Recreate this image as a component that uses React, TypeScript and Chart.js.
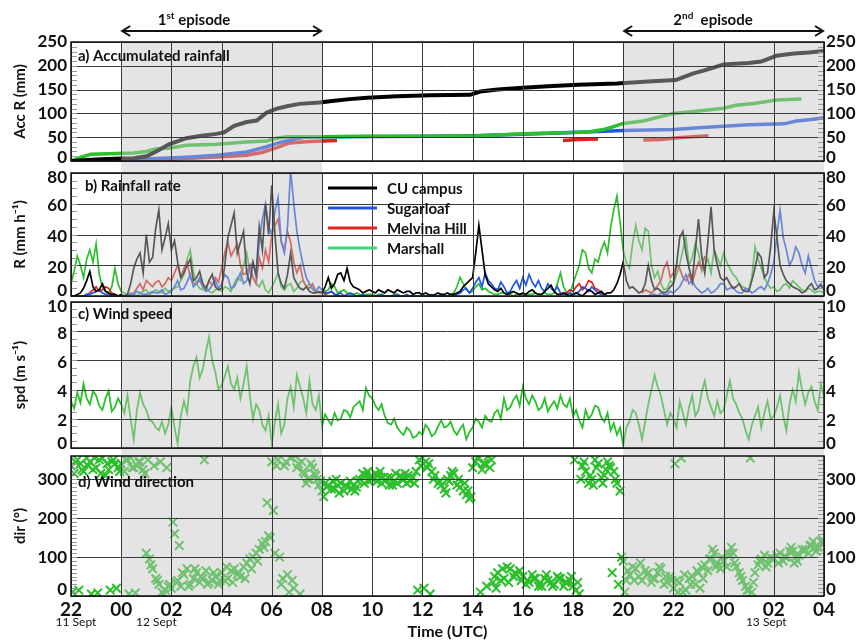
import React, { useEffect, useRef } from 'react';
import { Chart, registerables } from 'chart.js';

Chart.register(...registerables);

const WIDTH = 858;
const HEIGHT = 641;
const FONT = "Lato, 'Open Sans', 'DejaVu Sans', sans-serif";

// Time axis: hours after 00 UTC 12 Sept (22 UTC 11 Sept = -2, 04 UTC 13 Sept = 28)
const T_START = -2;
const T_END = 28;
const STEP = 0.25; // quarter-hour samples; the "half" arrays sit 7.5 min after each sample
const EPISODES: [number, number][] = [[0, 8], [20, 28]];

const BLACK = '#000000';
const BLUE = '#1f56e6';
const RED = '#e0241c';
const GREEN = '#2cbf2c';
const LEGEND_GREEN = '#3fd47c';
const SHADE = 'rgba(195,195,195,0.45)';
const GRID = '#3a3a3a';
const MINOR = '#9a9a9a';
const INK = '#111111';

// ---- a) accumulated rainfall (mm), irregular samples ----
const accCuT = [-2, -1, 0, 0.5, 1.0, 1.4, 1.9, 2.6, 3.2, 3.8, 4.1, 4.5, 5.0, 5.4, 5.8, 6.2, 6.6, 7.1, 7.9, 8.4, 9.1, 9.8, 11, 12.3, 13.9, 14.3, 15, 16, 17, 18.2, 19.75, 21, 22.1, 22.4, 22.8, 23.2, 23.6, 24, 25, 25.5, 26.1, 26.8, 27.4, 28];
const accCuV = [0, 3, 5, 6, 10, 20, 35, 48, 53, 57, 60, 74, 82, 85, 102, 110, 115, 120, 123, 126, 130, 133, 136, 138, 139, 146, 150, 154, 157, 160, 163, 167, 170, 176, 184, 190, 196, 203, 206, 209, 221, 226, 228, 231];
const accMarshallT = [-2, -1.6, -1.2, 0.5, 1.0, 1.4, 1.9, 2.6, 3.8, 5.0, 5.8, 6.2, 6.6, 8, 10, 12.3, 14.2, 16.3, 18.6, 19.2, 19.6, 20, 20.8, 22, 23, 24, 24.5, 25.2, 26.1, 27.1];
const accMarshallV = [0, 8, 14, 17, 20, 26, 27, 33, 35, 40, 42, 48, 51, 51, 52, 52, 53, 58, 61, 66, 72, 79, 84, 100, 105, 111, 117, 121, 128, 130];
const accSugarloafT = [-2, 0.5, 1.4, 2.6, 3.8, 5.0, 5.8, 6.2, 6.8, 7.3, 8, 12.3, 14, 16, 18, 19.5, 20, 22, 23, 24, 25, 26.4, 26.9, 27.5, 28];
const accSugarloafV = [0, 3, 5, 8, 12, 19, 30, 37, 45, 50, 51, 52, 53, 56, 60, 63, 64, 66, 70, 73, 76, 78, 84, 87, 91];
const accMelvinaT = [-2, 1.5, 2.5, 4, 5, 5.6, 6.2, 6.7, 7.5, 8.6, 8.7, 17.6, 18.2, 19.0, 19.1, 20.8, 21.5, 22.2, 23.4];
const accMelvinaV = [0, 1, 5, 9, 12, 18, 28, 38, 41, 43, null, 43, 45, 46, null, 44, 45, 49, 53];

// ---- b) rainfall rate (mm/h) ----
const rateCu = [
  0, 1, 5, 16, 3, 8, 2, 1,
  1, 1, 18, 28, 40, 25, 56, 38,
  30, 22, 15, 24, 12, 8, 10, 6,
  5, 38, 54, 35, 15, 22, 45, 60,
  72, 15, 5, 28, 8, 4, 3, 2,
  2, 12, 8, 15, 18, 6, 4, 3,
  3, 4, 2, 3, 4, 2, 3, 2,
  1, 1, 1, 1, 2, 1, 3, 8,
  12, 46, 14, 6, 3, 2, 2, 2,
  2, 3, 2, 1, 5, 3, 1, 1,
  1, 1, 2, 3, 2, 1, 2, 8,
  22, 5, 4, 3, 20, 4, 3, 3,
  8, 38, 28, 10, 50, 15, 58, 20,
  10, 8, 6, 4, 3, 18, 25, 15,
  55, 20, 10, 6, 4, 3, 8, 5,
  4,
];
const rateCuHalf = [
  0, 2, 10, 6, 4, 3, 1, 0,
  0, 8, 24, 15, 22, 44, 30, 47,
  36, 12, 20, 10, 16, 5, 14, 4,
  20, 46, 28, 42, 8, 14, 30, 40,
  40, 8, 14, 12, 5, 6, 2, 3,
  6, 5, 14, 10, 9, 5, 2, 4,
  2, 3, 4, 2, 3, 3, 1, 2,
  2, 0, 2, 1, 1, 2, 6, 10,
  28, 30, 8, 4, 5, 1, 3, 1,
  1, 4, 1, 3, 7, 1, 2, 0,
  2, 0, 4, 1, 3, 2, 4, 14,
  10, 6, 2, 8, 10, 5, 2, 6,
  20, 42, 18, 30, 26, 35, 30, 12,
  12, 5, 8, 3, 10, 28, 12, 32,
  38, 14, 8, 5, 2, 6, 4, 7,
];
const rateSugarloaf = [
  0, 0, 0, 1, 3, 2, 1, 0,
  0, 0, 1, 2, 1, 3, 2, 1,
  3, 10, 5, 14, 8, 6, 4, 10,
  8, 12, 6, 15, 10, 22, 35, 60,
  40, 64, 28, 82, 42, 20, 8, 3,
  4, 2, 1, 2, 1, 1, 0, 0,
  0, 0, 0, 0, 1, 0, 0, 0,
  0, 0, 0, 1, 0, 0, 2, 5,
  5, 12, 15, 8, 4, 6, 3, 10,
  12, 14, 6, 5, 8, 3, 2, 1,
  1, 3, 5, 6, 2, 1, 0, 0,
  0, 0, 0, 0, 0, 1, 2, 1,
  2, 6, 14, 10, 4, 3, 2, 5,
  8, 5, 3, 2, 4, 3, 6, 8,
  22, 56, 30, 24, 28, 15, 18, 6,
  4,
];
const rateSugarloafHalf = [
  0, 0, 1, 2, 4, 1, 0, 0,
  0, 1, 3, 1, 2, 2, 4, 2,
  6, 4, 9, 6, 12, 3, 7, 5,
  14, 5, 10, 8, 18, 12, 50, 45,
  55, 35, 45, 60, 30, 12, 5, 6,
  2, 3, 1, 0, 2, 0, 1, 0,
  0, 1, 0, 0, 0, 1, 0, 0,
  0, 1, 0, 0, 1, 1, 4, 2,
  9, 6, 10, 5, 9, 2, 7, 5,
  7, 9, 10, 3, 5, 6, 1, 2,
  2, 6, 3, 4, 1, 0, 0, 0,
  0, 0, 0, 0, 1, 0, 1, 3,
  4, 10, 8, 6, 2, 5, 3, 8,
  4, 6, 2, 5, 2, 5, 4, 14,
  40, 38, 20, 32, 20, 26, 10, 8,
];
const rateMelvina = [
  0, 0, 0, 2, 6, 4, 5, 1,
  0, 0, 2, 8, 10, 6, 10, 8,
  10, 20, 18, 12, 8, 6, 10, 12,
  18, 35, 30, 20, 15, 12, 25, 30,
  40, 50, 30, 35, 15, 10, 5, 3,
  3, 2, 1, 0, null, null, null, null,
  null, null, null, null, null, null, null, null,
  null, null, null, null, null, null, null, null,
  null, null, null, null, null, null, null, null,
  null, null, null, null, null, null, 1, 2,
  3, 8, 6, 9, 4, 1, null, null,
  null, null, null, 2, 3, 4, 10, 22,
  15, 18, 10, 8, 22, 26, null, null,
  null, null, null, null, null, null, null, null,
  null, null, null, null, null, null, null, null,
  null,
];
const rateMelvinaHalf = [
  0, 0, 1, 4, 3, 6, 2, 0,
  0, 1, 5, 4, 8, 9, 6, 12,
  15, 12, 22, 8, 10, 4, 7, 9,
  28, 26, 34, 14, 20, 8, 18, 22,
  46, 36, 42, 22, 20, 6, 8, 2,
  1, 3, 0, null, null, null, null, null,
  null, null, null, null, null, null, null, null,
  null, null, null, null, null, null, null, null,
  null, null, null, null, null, null, null, null,
  null, null, null, null, null, null, 2, 4,
  6, 4, 10, 5, 2, null, null, null,
  null, null, null, 4, 2, 7, 18, 12,
  20, 12, 14, 16, 18, null, null, null,
  null, null, null, null, null, null, null, null,
  null, null, null, null, null, null, null, null,
];
const rateMarshall = [
  8, 26, 12, 30, 34, 6, 2, 18,
  3, 1, 1, 2, 4, 2, 3, 5,
  4, 6, 14, 30, 8, 4, 3, 4,
  3, 5, 8, 10, 28, 12, 6, 4,
  6, 15, 4, 8, 5, 10, 8, 3,
  2, 4, 6, 3, 2, 1, 1, 1,
  1, 1, 0, 0, 1, 0, 0, 0,
  0, 0, 0, 0, 0, 2, 12, 4,
  3, 8, 5, 2, 1, 2, 1, 1,
  1, 1, 2, 1, 1, 2, 15, 2,
  8, 20, 28, 15, 22, 35, 45, 65,
  30, 18, 46, 30, 42, 12, 8, 5,
  8, 20, 38, 25, 28, 20, 15, 25,
  28, 18, 12, 6, 4, 32, 18, 8,
  6, 4, 8, 10, 6, 3, 4, 3,
  2,
];
const rateMarshallHalf = [
  16, 20, 24, 22, 14, 3, 6, 8,
  2, 2, 0, 3, 1, 4, 2, 3,
  5, 10, 24, 16, 5, 6, 2, 5,
  6, 3, 12, 20, 16, 8, 10, 2,
  10, 6, 7, 3, 9, 6, 4, 2,
  3, 8, 2, 4, 1, 2, 0, 1,
  0, 1, 0, 1, 0, 0, 0, 0,
  0, 0, 0, 0, 1, 6, 8, 2,
  6, 4, 3, 1, 2, 1, 0, 1,
  0, 1, 1, 2, 1, 8, 6, 1,
  14, 30, 18, 24, 30, 28, 56, 48,
  22, 34, 36, 44, 20, 16, 4, 10,
  14, 30, 20, 34, 16, 24, 30, 20,
  22, 14, 8, 5, 12, 24, 12, 5,
  3, 7, 5, 8, 4, 5, 2, 3,
];

// ---- c) wind speed (m/s) ----
const windSpeed = [
  3.2, 3.8, 4.4, 3.0, 3.6, 2.6, 3.9, 2.8,
  3.0, 3.6, 0.6, 3.8, 2.6, 1.8, 1.2, 1.0,
  2.8, 0.3, 3.2, 4.6, 6.2, 5.4, 7.6, 5.2,
  4.3, 5.6, 4.0, 3.4, 5.6, 2.0, 2.6, 1.2,
  0.3, 3.0, 1.6, 4.2, 5.0, 3.4, 4.6, 2.6,
  1.5, 1.9, 2.4, 2.0, 2.5, 2.8, 3.2, 4.1,
  3.4, 2.6, 2.2, 1.6, 1.4, 0.9, 1.2, 0.8,
  0.9, 1.3, 1.0, 1.9, 1.5, 1.2, 1.3, 0.6,
  1.4, 1.8, 2.2, 1.8, 2.6, 3.4, 2.8, 3.6,
  4.2, 3.0, 3.2, 2.8, 2.5, 3.2, 3.6, 2.8,
  2.2, 1.9, 2.6, 2.3, 2.8, 1.8, 1.2, 0.9,
  0.2, 1.8, 2.4, 0.6, 3.0, 5.0, 3.6, 1.6,
  2.0, 3.2, 1.6, 3.6, 2.6, 4.6, 2.8, 3.2,
  2.6, 4.6, 3.0, 2.0, 0.6, 2.2, 1.4, 3.2,
  2.2, 3.6, 1.2, 4.0, 5.2, 3.0, 4.2, 2.6,
  3.6,
];
const windSpeedHalf = [
  2.7, 3.1, 3.4, 3.9, 2.9, 3.4, 2.5, 3.4,
  2.4, 2.0, 2.6, 3.0, 1.9, 1.4, 1.8, 1.6,
  1.4, 2.2, 2.4, 5.6, 4.8, 6.6, 6.0, 4.0,
  4.9, 4.4, 4.8, 4.4, 3.6, 3.0, 1.6, 2.2,
  1.8, 1.0, 3.4, 2.8, 4.2, 2.4, 3.0, 3.6,
  2.3, 1.6, 1.9, 2.6, 2.1, 3.0, 2.6, 3.6,
  2.9, 3.0, 1.7, 2.0, 1.1, 1.4, 0.7, 1.1,
  1.6, 0.8, 1.5, 1.4, 1.8, 0.9, 1.6, 1.1,
  2.0, 1.4, 1.9, 2.4, 2.0, 2.6, 3.3, 2.9,
  3.4, 3.6, 2.6, 3.4, 2.9, 2.7, 3.0, 3.4,
  2.6, 1.4, 2.0, 2.9, 2.1, 2.4, 1.7, 1.4,
  1.4, 2.6, 1.6, 1.8, 4.0, 4.2, 2.6, 2.4,
  1.4, 2.4, 2.8, 2.2, 3.8, 3.4, 2.2, 2.4,
  3.6, 3.4, 2.4, 1.2, 1.6, 2.8, 2.4, 2.0,
  2.8, 2.2, 3.0, 3.2, 4.0, 3.8, 3.2, 4.4,
];

// ---- d) wind direction (deg): four interleaved sample sets ----
const dirA = [
  335, 350, 320, 345, 330, 355, 325, 340,
  340, 350, 330, 345, 110, 70, 30, 15,
  20, 40, 55, 30, 60, 45, 35, 50,
  60, 45, 70, 50, 85, 100, 120, 140,
  345, 350, 335, 355, 330, 320, 300, 310,
  270, 285, 275, 290, 280, 285, 300, 310,
  300, 310, 295, 305, 290, 300, 295, 320,
  355, 340, 310, 285, 300, 315, 280, 260,
  330, 355, 340, 350, 60, 45, 70, 55,
  50, 35, 45, 25, 40, 30, 45, 35,
  25, 5, 320, 300, 340, 310, 330, 290,
  90, 55, 70, 40, 60, 45, 70, 35,
  20, 35, 15, 50, 60, 80, 95, 85,
  90, 105, 75, 40, 15, 60, 95, 85,
  95, 110, 100, 115, 105, 120, 130, 125,
  135,
];
const dirB = [
  315, 340, 355, 325, 350, 310, 345, 330,
  320, 355, 335, 325, 95, 45, 10, 25,
  160, 25, 70, 45, 35, 65, 40, 30,
  40, 65, 55, 75, 95, 110, 135, 155,
  110, 30, 55, 20, 5, 290, 330, 285,
  290, 275, 285, 270, 295, 280, 315, 295,
  315, 290, 305, 295, 310, 290, 305, 350,
  345, 320, 290, 275, 310, 285, 270, 250,
  345, 325, 360, 50, 40, 75, 50, 65,
  30, 55, 25, 45, 35, 50, 25, 40,
  15, 335, 290, 350, 305, 345, 320, 270,
  40, 75, 50, 65, 35, 60, 30, 50,
  40, 10, 45, 30, 75, 65, 110, 70,
  75, 110, 60, 25, 10, 80, 105, 100,
  105, 90, 115, 100, 120, 110, 125, 140,
  null,
];
const dirC = [
  10, 15, null, 5, 8, null, 15, 20,
  null, 5, 8, null, 350, 335, 345, 330,
  190, 130, null, null, null, 350, null, null,
  null, null, null, null, null, null, null, 240,
  220, 100, 345, 40, 340, 315, 340, 300,
  255, null, 300, null, null, 270, null, 320,
  null, 320, null, 285, null, 315, null, 15,
  20, 5, null, null, 295, null, null, 270,
  null, 10, 25, 35, null, null, null, null,
  null, null, null, null, null, null, null, null,
  350, 300, null, 285, null, 325, 60, 30,
  10, null, null, null, null, null, null, null,
  340, 355, null, null, 20, null, 120, null,
  null, 125, null, null, 355, null, null, null,
  null, null, null, 85, null, null, 140, null,
  null,
];
const dirD = [
  345, 325, 335, 355, 315, 340, 350, 320,
  350, 330, 345, 315, 80, 40, 5, 30,
  35, 60, 25, 70, 50, 30, 60, 40,
  75, 35, 60, 45, 70, 90, 125, 150,
  335, 45, 10, 360, 345, 300, 315, 295,
  280, 295, 265, 285, 275, 295, 290, 305,
  295, 305, 285, 315, 300, 310, 290, 335,
  330, 300, 295, 265, 320, 300, 290, 255,
  355, 340, 330, 20, 70, 35, 60, 40,
  40, 45, 35, 55, 25, 45, 35, 50,
  35, 345, 310, 330, 290, 335, 300, 100,
  65, 40, 85, 55, 45, 75, 50, 40,
  10, 55, 30, 65, 45, 95, 75, 100,
  110, 85, 50, 15, 35, 90, 75, 95,
  85, 100, 125, 90, 115, 130, 115, 145,
  null,
];

const LEGEND = [
  { name: 'CU campus', color: BLACK },
  { name: 'Sugarloaf', color: BLUE },
  { name: 'Melvina Hill', color: RED },
  { name: 'Marshall', color: LEGEND_GREEN },
];

const sampleTime = (i: number, offset = 0) => T_START + i * STEP + offset;
const pair = (times: number[], values: (number | null)[]) =>
  values.map((v, i) => ({ x: times[i], y: v }));
const onGrid = (values: (number | null)[], offset = 0) =>
  values.map((v, i) => ({ x: sampleTime(i, offset), y: v }));
// merge quarter-hour samples with the samples taken 7.5 min later
const merged = (main: (number | null)[], half: (number | null)[]) => {
  const out: { x: number; y: number | null }[] = [];
  main.forEach((v, i) => {
    out.push({ x: sampleTime(i), y: v });
    if (i < half.length) out.push({ x: sampleTime(i, STEP / 2), y: half[i] });
  });
  return out;
};
const hourLabel = (v: number) => String(((v % 24) + 24) % 24).padStart(2, '0');

type Panel = {
  top: number;
  bottom: number;
  shadeTo: number;
  yMin: number;
  yMax: number;
  yStep: number;
  minor: number;
  shiftTop: number;
  shiftMid: number;
  shiftBottom: number;
  title: string;
  label: string;
  labelX: number;
  labelY: number;
  datasets: any[];
  timeAxis: boolean;
  extra?: (chart: Chart) => void;
};

function lineSet(label: string, data: any[], color: string, width: number) {
  return {
    label,
    data,
    borderColor: color,
    backgroundColor: color,
    borderWidth: width,
    pointRadius: 0,
    tension: 0,
    spanGaps: false,
    fill: false,
  };
}

function crossSet(label: string, data: any[]) {
  return {
    label,
    data,
    showLine: false,
    pointStyle: 'crossRot',
    pointRadius: 6,
    pointBorderWidth: 2,
    pointBorderColor: GREEN,
    pointBackgroundColor: GREEN,
    borderColor: GREEN,
    clip: 0,
  };
}

function drawEpisodeArrow(ctx: CanvasRenderingContext2D, x0: number, x1: number, y: number) {
  ctx.strokeStyle = INK;
  ctx.lineWidth = 2;
  ctx.beginPath();
  ctx.moveTo(x0 + 1, y);
  ctx.lineTo(x1 - 1, y);
  ctx.moveTo(x0 + 9, y - 5);
  ctx.lineTo(x0 + 1, y);
  ctx.lineTo(x0 + 9, y + 5);
  ctx.moveTo(x1 - 9, y - 5);
  ctx.lineTo(x1 - 1, y);
  ctx.lineTo(x1 - 9, y + 5);
  ctx.stroke();
}

function drawEpisodeTitle(ctx: CanvasRenderingContext2D, cx: number, y: number, num: string, sup: string, rest: string) {
  const big = `bold 15px ${FONT}`;
  const small = `bold 10px ${FONT}`;
  ctx.font = big;
  const w1 = ctx.measureText(num).width;
  const w3 = ctx.measureText(rest).width;
  ctx.font = small;
  const w2 = ctx.measureText(sup).width;
  let x = cx - (w1 + w2 + w3) / 2;
  ctx.fillStyle = INK;
  ctx.textAlign = 'left';
  ctx.textBaseline = 'alphabetic';
  ctx.font = big;
  ctx.fillText(num, x, y);
  x += w1;
  ctx.font = small;
  ctx.fillText(sup, x, y - 6);
  x += w2;
  ctx.font = big;
  ctx.fillText(rest, x, y);
}

function decorations(p: Panel) {
  return {
    id: 'panelDecor',
    afterDatasetsDraw(chart: Chart) {
      const { ctx, chartArea: a } = chart;
      const xs = chart.scales.x;
      const ys = chart.scales.y;
      ctx.save();
      // episode shading sits over the traces, so traces inside it look paler
      ctx.fillStyle = SHADE;
      for (const [s, e] of EPISODES) {
        const x0 = xs.getPixelForValue(s);
        const x1 = xs.getPixelForValue(e);
        ctx.fillRect(x0, a.top, x1 - x0, p.shadeTo - a.top);
      }
      // grid
      ctx.strokeStyle = GRID;
      ctx.lineWidth = 1;
      ctx.beginPath();
      for (const t of xs.ticks) {
        const px = Math.round(xs.getPixelForValue(t.value)) + 0.5;
        ctx.moveTo(px, a.top);
        ctx.lineTo(px, a.bottom);
      }
      for (const t of ys.ticks) {
        const py = Math.round(ys.getPixelForValue(t.value)) + 0.5;
        ctx.moveTo(a.left, py);
        ctx.lineTo(a.right, py);
      }
      ctx.stroke();
      // minor ticks along both inner edges
      ctx.strokeStyle = MINOR;
      ctx.beginPath();
      const n = Math.round((p.yMax - p.yMin) / p.minor);
      for (let i = 1; i < n; i++) {
        const py = Math.round(ys.getPixelForValue(p.yMin + i * p.minor)) + 0.5;
        ctx.moveTo(a.left, py);
        ctx.lineTo(a.left + 6, py);
        ctx.moveTo(a.right, py);
        ctx.lineTo(a.right - 6, py);
      }
      ctx.stroke();
      // frame
      ctx.strokeStyle = INK;
      ctx.lineWidth = 1.5;
      ctx.strokeRect(a.left, a.top, a.right - a.left, a.bottom - a.top);
      // value labels on both sides, nudged inwards at the panel ends
      ctx.fillStyle = INK;
      ctx.font = `bold 17px ${FONT}`;
      ctx.textBaseline = 'middle';
      for (const t of ys.ticks) {
        let py = ys.getPixelForValue(t.value);
        if (t.value === p.yMax) py += p.shiftTop;
        else if (t.value === p.yMin) py += p.shiftBottom;
        else py += p.shiftMid;
        const text = String(t.value);
        ctx.textAlign = 'right';
        ctx.fillText(text, a.left - 4, py);
        ctx.textAlign = 'left';
        ctx.fillText(text, a.right + 2, py);
      }
      // panel caption
      ctx.font = `bold 15px ${FONT}`;
      ctx.textAlign = 'left';
      ctx.textBaseline = 'alphabetic';
      ctx.fillText(p.label, p.labelX, p.labelY);
      if (p.extra) p.extra(chart);
      ctx.restore();
    },
  };
}

function buildConfig(p: Panel): any {
  const xAxisHeight = p.timeAxis ? HEIGHT - p.bottom : 0;
  return {
    type: 'line',
    data: { datasets: p.datasets },
    options: {
      responsive: false,
      animation: false,
      devicePixelRatio: 1,
      events: [],
      layout: {
        padding: { top: p.top, bottom: HEIGHT - p.bottom - xAxisHeight, left: 0, right: WIDTH - 824 },
      },
      plugins: {
        legend: { display: false },
        tooltip: { enabled: false },
        title: { display: false },
      },
      scales: {
        x: {
          type: 'linear',
          min: T_START,
          max: T_END,
          ticks: {
            stepSize: 2,
            display: p.timeAxis,
            autoSkip: false,
            maxRotation: 0,
            padding: 2,
            font: { family: FONT, size: 19, weight: 'bold' },
            color: INK,
            callback: (v: number) => hourLabel(v),
          },
          grid: { display: false, drawTicks: false },
          border: { display: false },
          title: {
            display: p.timeAxis,
            text: 'Time (UTC)',
            font: { family: FONT, size: 16, weight: 'bold' },
            color: INK,
            padding: { top: 0, bottom: 0 },
          },
          afterFit: (s: any) => {
            s.height = xAxisHeight;
          },
        },
        y: {
          position: 'left',
          min: p.yMin,
          max: p.yMax,
          ticks: { stepSize: p.yStep, includeBounds: false, display: false },
          grid: { display: false, drawTicks: false },
          border: { display: false },
          title: {
            display: true,
            text: p.title,
            font: { family: FONT, size: 15, weight: 'bold' },
            color: INK,
            padding: { top: 11, bottom: 0 },
          },
          afterFit: (s: any) => {
            s.width = 71;
          },
        },
      },
    },
    plugins: [decorations(p)],
  };
}

function buildPanels(): Panel[] {
  const accPanel: Panel = {
    top: 42,
    bottom: 161,
    shadeTo: 173,
    yMin: 0,
    yMax: 250,
    yStep: 50,
    minor: 10,
    shiftTop: 0,
    shiftMid: 0,
    shiftBottom: -3,
    title: 'Acc R (mm)',
    label: 'a) Accumulated rainfall',
    labelX: 78,
    labelY: 61,
    timeAxis: false,
    datasets: [
      lineSet('CU campus', pair(accCuT, accCuV), BLACK, 4),
      lineSet('Marshall', pair(accMarshallT, accMarshallV), GREEN, 3.5),
      lineSet('Sugarloaf', pair(accSugarloafT, accSugarloafV), BLUE, 3.5),
      lineSet('Melvina Hill', pair(accMelvinaT, accMelvinaV), RED, 3.5),
    ],
    extra: (chart) => {
      const ctx = chart.ctx;
      const xs = chart.scales.x;
      const e1 = [xs.getPixelForValue(EPISODES[0][0]), xs.getPixelForValue(EPISODES[0][1])];
      const e2 = [xs.getPixelForValue(EPISODES[1][0]), xs.getPixelForValue(EPISODES[1][1])];
      drawEpisodeArrow(ctx, e1[0], e1[1], 31);
      drawEpisodeArrow(ctx, e2[0], e2[1], 31);
      drawEpisodeTitle(ctx, 194, 25, '1', 'st', ' episode');
      drawEpisodeTitle(ctx, 713, 25, '2', 'nd', '  episode');
    },
  };

  const ratePanel: Panel = {
    top: 173,
    bottom: 296,
    shadeTo: 302,
    yMin: 0,
    yMax: 80,
    yStep: 20,
    minor: 5,
    shiftTop: 5,
    shiftMid: 2,
    shiftBottom: -5,
    title: 'R (mm h\u207B\u00B9)',
    label: 'b) Rainfall rate',
    labelX: 85,
    labelY: 191,
    timeAxis: false,
    datasets: [
      lineSet('CU campus', merged(rateCu, rateCuHalf), BLACK, 1.7),
      lineSet('Sugarloaf', merged(rateSugarloaf, rateSugarloafHalf), BLUE, 1.7),
      lineSet('Melvina Hill', merged(rateMelvina, rateMelvinaHalf), RED, 1.7),
      lineSet('Marshall', merged(rateMarshall, rateMarshallHalf), GREEN, 1.7),
    ],
    extra: (chart) => {
      const ctx = chart.ctx;
      ctx.font = `bold 15px ${FONT}`;
      ctx.textAlign = 'left';
      ctx.textBaseline = 'middle';
      LEGEND.forEach((item, i) => {
        const y = 188 + i * 20;
        ctx.strokeStyle = item.color;
        ctx.lineWidth = 3;
        ctx.beginPath();
        ctx.moveTo(328, y);
        ctx.lineTo(377, y);
        ctx.stroke();
        ctx.fillStyle = INK;
        ctx.fillText(item.name, 387, y + 1);
      });
    },
  };

  const speedPanel: Panel = {
    top: 302,
    bottom: 448,
    shadeTo: 456,
    yMin: 0,
    yMax: 10,
    yStep: 2,
    minor: 0.5,
    shiftTop: 5,
    shiftMid: 2,
    shiftBottom: -4,
    title: 'spd (m s\u207B\u00B9)',
    label: 'c) Wind speed',
    labelX: 78,
    labelY: 319,
    timeAxis: false,
    datasets: [lineSet('Wind speed', merged(windSpeed, windSpeedHalf), GREEN, 1.8)],
  };

  const dirPanel: Panel = {
    top: 456,
    bottom: 596,
    shadeTo: 596,
    yMin: 0,
    yMax: 360,
    yStep: 100,
    minor: 10,
    shiftTop: 0,
    shiftMid: 0,
    shiftBottom: -6,
    title: 'dir (\u00B0)',
    label: 'd) Wind direction',
    labelX: 78,
    labelY: 487,
    timeAxis: true,
    datasets: [
      crossSet('Wind direction', onGrid(dirA)),
      crossSet('Wind direction (b)', onGrid(dirB, 0.125)),
      crossSet('Wind direction (c)', onGrid(dirC, 0.0625)),
      crossSet('Wind direction (d)', onGrid(dirD, 0.1875)),
    ],
    extra: (chart) => {
      const ctx = chart.ctx;
      const xs = chart.scales.x;
      ctx.fillStyle = INK;
      ctx.font = `12px ${FONT}`;
      ctx.textAlign = 'center';
      ctx.textBaseline = 'middle';
      ctx.fillText('11 Sept', xs.getPixelForValue(-2) + 5, 622);
      ctx.fillText('12 Sept', xs.getPixelForValue(1.4), 622);
      ctx.fillText('13 Sept', xs.getPixelForValue(25.7), 622);
    },
  };

  return [accPanel, ratePanel, speedPanel, dirPanel];
}

export default function App() {
  const refs = [
    useRef<HTMLCanvasElement>(null),
    useRef<HTMLCanvasElement>(null),
    useRef<HTMLCanvasElement>(null),
    useRef<HTMLCanvasElement>(null),
  ];

  useEffect(() => {
    document.body.style.margin = '0';
    const panels = buildPanels();
    const charts = panels.map((p, i) => new Chart(refs[i].current as HTMLCanvasElement, buildConfig(p)));
    return () => charts.forEach((c) => c.destroy());
  }, []);

  return (
    <div style={{ position: 'relative', width: WIDTH, height: HEIGHT, background: '#ffffff' }}>
      {refs.map((r, i) => (
        <canvas
          key={i}
          ref={r}
          width={WIDTH}
          height={HEIGHT}
          style={{ position: 'absolute', left: 0, top: 0, width: WIDTH, height: HEIGHT }}
        />
      ))}
    </div>
  );
}
